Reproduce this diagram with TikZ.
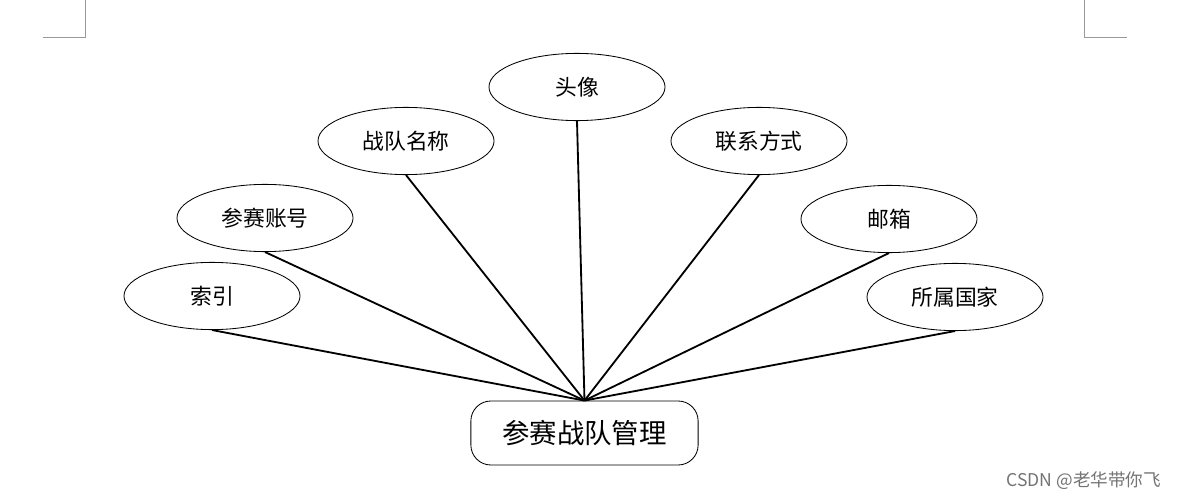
\documentclass[tikz,border=0pt]{standalone}
\usepackage{fontspec}
\setmainfont{Noto Sans CJK SC}
\usepackage{xcolor}
\usetikzlibrary{positioning,shapes.geometric}

\begin{document}
\begin{tikzpicture}[
  x=0.025cm, y=-0.025cm,
  attr/.style={draw,ellipse,line width=0.6pt,inner sep=0pt,
    minimum width=4.4cm,minimum height=1.68cm,font=\fontsize{15.5}{17}\selectfont},
  entity/.style={draw,rounded corners=0.5cm,line width=0.6pt,inner sep=0pt,
    minimum width=5.68cm,minimum height=1.6cm,font=\fontsize{19.5}{21}\selectfont},
  link/.style={line width=1.3pt},
  cornermark/.style={black!40,line width=0.7pt}
]
\useasboundingbox (0,0) rectangle (1180,499);
% page corner marks
\draw[cornermark] (85,0) -- (85,37) -- (43,37);
\draw[cornermark] (1084,0) -- (1084,37) -- (1127,37);

\node[entity] (team) at (584.5,433) {参赛战队管理};

\node[attr] (avatar) at (577,87) {头像};
\node[attr] (name) at (406,141) {战队名称};
\node[attr] (contact) at (759,141) {联系方式};
\node[attr] (account) at (265,218) {参赛账号};
\node[attr] (mail) at (889,219) {邮箱};
\node[attr] (index) at (212,296) {索引};
\node[attr] (country) at (955,297) {所属国家};

\foreach \a in {avatar,name,contact,account,mail,index,country}
  \draw[link] (\a.south) -- (team.north);

\node[text=black!55,font=\fontsize{12.5}{14}\selectfont,anchor=east] (wm)
  at (1166,481) {CSDN @老华带你飞};
\end{tikzpicture}
\end{document}
